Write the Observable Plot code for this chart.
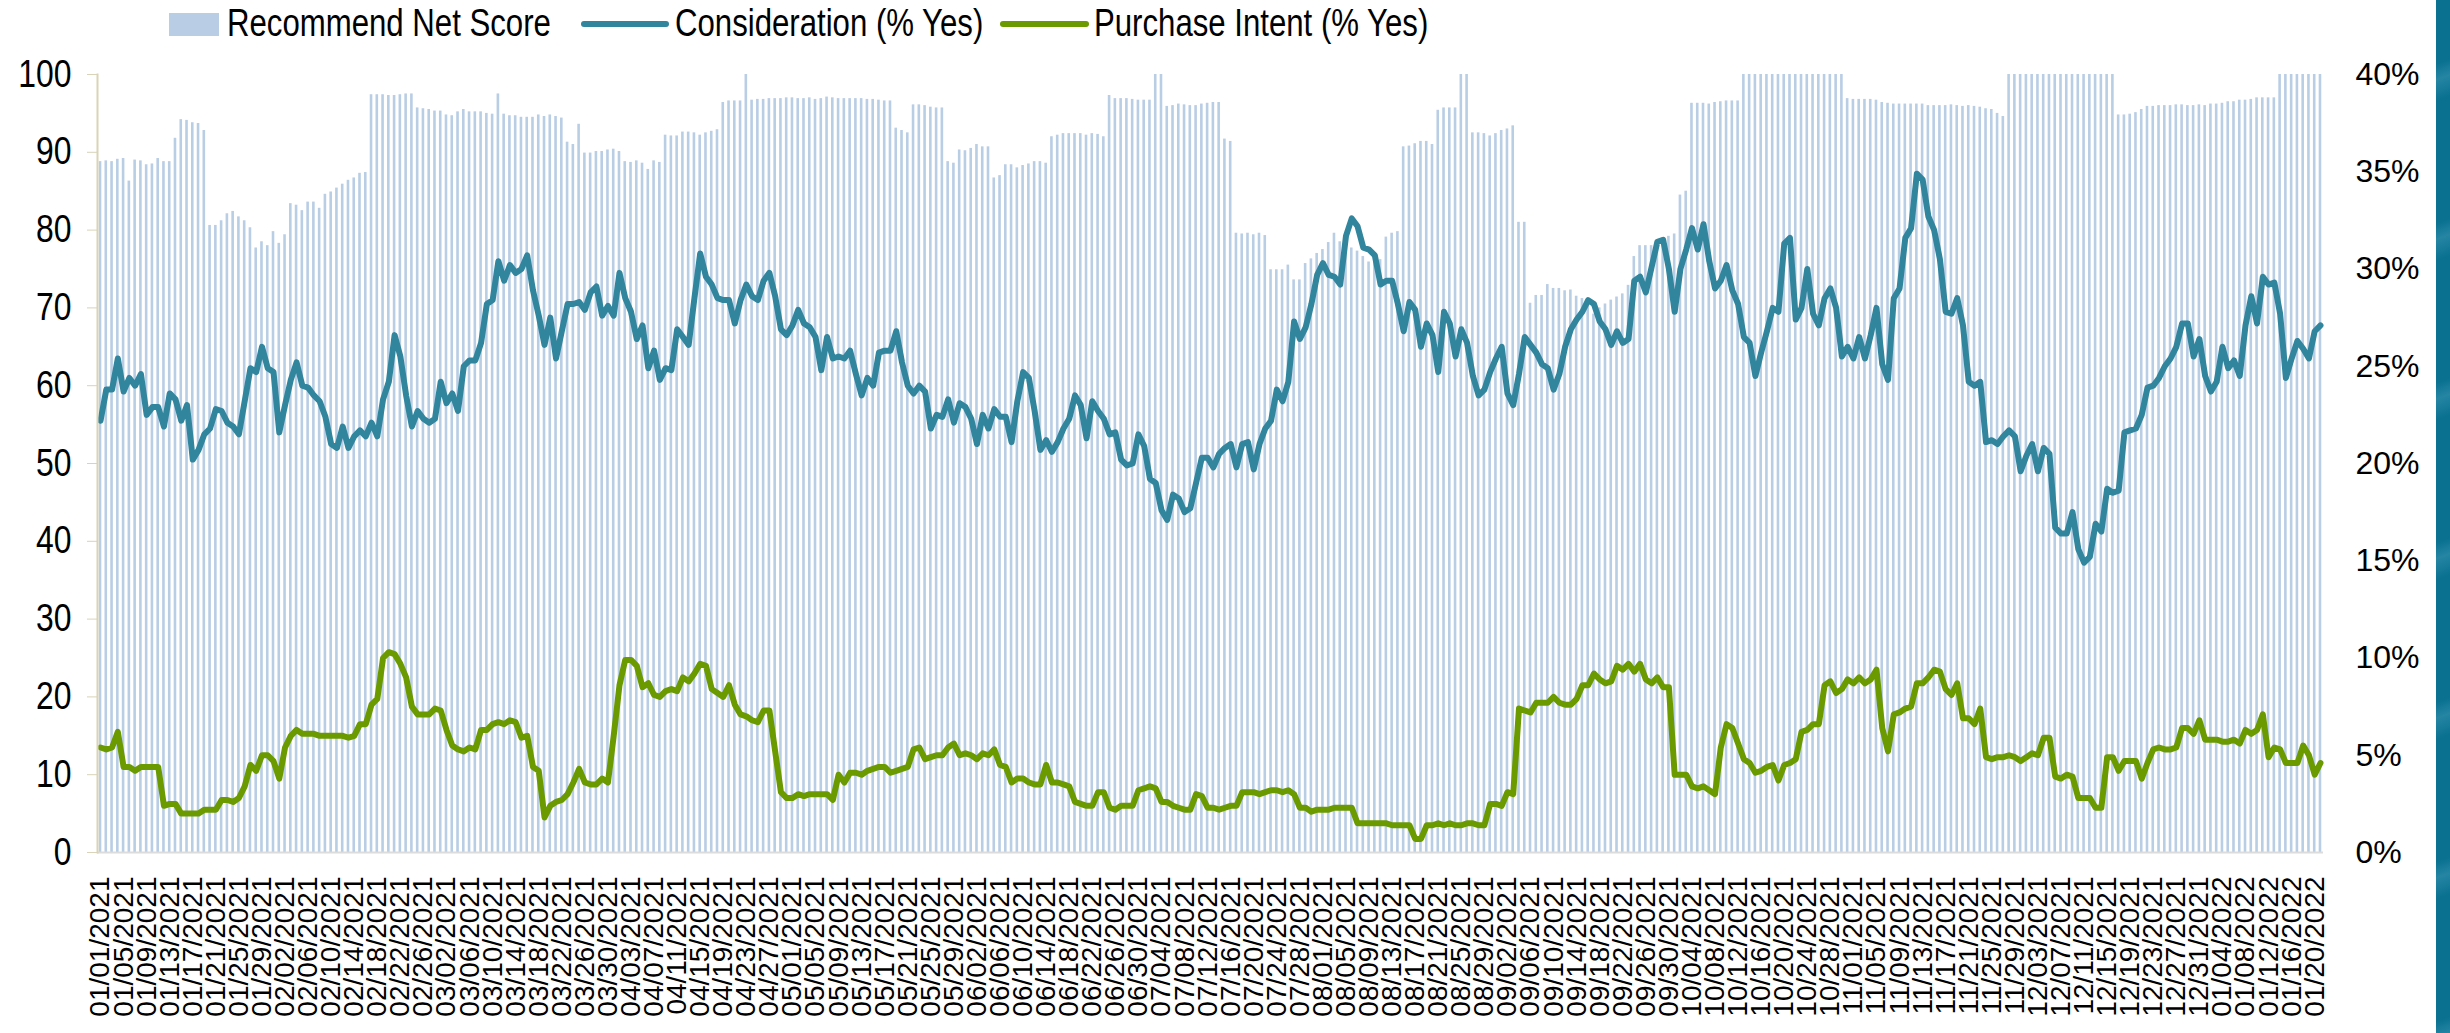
<!DOCTYPE html>
<html><head><meta charset="utf-8">
<script src="https://cdn.jsdelivr.net/npm/d3@7"></script>
<script src="https://cdn.jsdelivr.net/npm/@observablehq/plot@0.6"></script>
<style>
html,body{margin:0;padding:0;background:#fff;width:2450px;height:1033px;overflow:hidden;}
#wrap{position:relative;width:2450px;height:1033px;}
#legend{position:relative;height:46px;width:2450px;font-family:"Liberation Sans",Arial,sans-serif;font-size:38px;color:#000;}
.sw{position:absolute;}
.lt{position:absolute;top:0;height:46px;line-height:46px;white-space:nowrap;transform:scaleX(0.82);transform-origin:left center;}
#strip{position:absolute;left:2436px;top:0;width:14px;height:1033px;
background:repeating-linear-gradient(160deg,#0a7191 0px,#0a7191 60px,#2585a3 75px,#0a7191 95px,#0a7191 150px);}
svg{display:block;}
</style></head>
<body><div id="wrap"><div id="legend"></div><div id="chart"></div><div id="strip"></div></div>
<script>
// ---------- data ----------
const seriesNames = ["Recommend Net Score", "Consideration (% Yes)", "Purchase Intent (% Yes)"];
const seriesColors = ["#b9cde5", "#31859c", "#6a9a00"];
const leftTicks = [0,10,20,30,40,50,60,70,80,90,100];
const rightTicks = [0,5,10,15,20,25,30,35,40];

// Recommend Net Score (left axis), daily 01/01/2021 - 01/21/2022
const recommend = [
88.8,88.9,88.8,89.1,89.2,86.3,89.0,88.9,88.4,88.5,89.2,88.8,88.8,91.8,94.2,94.1,93.8,93.7,92.8,
80.6,80.6,81.2,82.1,82.4,81.7,81.2,80.3,77.7,78.5,78.0,79.8,78.3,79.4,83.4,83.2,82.5,83.6,83.6,82.8,84.6,84.9,85.4,85.9,86.4,86.7,87.3,87.4,
97.4,97.4,97.4,97.3,97.3,97.4,97.5,97.5,
95.7,95.6,95.5,95.3,95.3,94.8,94.7,95.2,95.5,95.2,95.2,95.2,95.0,94.9,97.5,94.9,94.7,94.7,94.5,94.5,94.5,94.8,94.6,94.8,94.6,94.4,
91.3,91.0,93.6,
89.9,89.9,90.1,90.1,90.3,90.4,90.1,
88.8,88.7,88.9,88.6,87.8,88.9,88.7,
92.2,92.1,92.1,92.6,92.6,92.5,92.2,92.5,92.7,92.9,
96.4,96.6,96.6,96.6,
100,
96.7,96.8,96.8,96.9,96.9,96.9,97.0,97.0,96.9,96.9,97.0,96.8,96.9,97.1,97.0,96.9,96.9,96.9,96.9,96.9,96.8,96.8,96.7,96.6,96.6,
93.1,92.8,92.5,
96.1,96.1,96.0,95.8,95.7,95.7,
88.8,88.6,
90.3,90.2,90.5,91.0,90.7,90.7,
86.7,87.0,
88.4,88.4,88.0,88.3,88.5,88.8,88.8,88.6,
92.0,92.2,92.4,92.4,92.4,92.4,92.2,92.4,92.3,92.0,
97.3,96.9,96.9,96.9,96.8,96.7,96.7,96.7,
100,100,
95.9,96.0,96.2,96.1,96.0,96.0,96.2,96.3,96.4,96.4,
91.7,91.4,
79.6,79.5,79.6,79.4,79.6,79.3,
74.9,74.9,74.9,75.5,
73.6,73.6,
75.7,76.3,77.0,77.5,78.4,79.6,78.5,
78.0,77.7,77.3,76.6,75.9,75.9,76.2,
79.1,79.6,79.8,
90.7,90.8,91.1,91.4,91.4,91.0,
95.4,95.7,95.7,95.7,
100,100,
92.5,92.5,92.4,92.1,92.4,92.8,93.0,93.4,
81.0,81.0,
70.6,71.6,71.6,
73.0,72.5,72.5,72.2,72.3,
71.5,71.2,70.5,69.2,70.0,70.5,
71.0,71.4,71.8,72.9,
76.6,78.0,78.0,78.0,
78.6,79.0,79.2,79.5,
84.5,85.0,
96.3,96.3,96.3,96.2,96.4,96.5,96.6,96.6,96.6,
100,100,100,100,100,100,100,100,100,100,100,100,100,100,100,100,100,100,
96.9,96.8,96.8,96.8,96.8,96.7,96.4,96.3,96.2,96.2,96.2,96.2,96.2,96.2,96.0,96.0,96.0,96.0,96.1,96.0,95.9,96.0,95.9,95.8,95.6,95.5,95.0,94.6,
100,100,100,100,100,100,100,100,100,100,100,100,100,100,100,100,100,100,100,
94.8,94.8,94.9,95.1,
95.5,95.9,95.9,96.0,96.0,96.0,96.1,96.1,96.0,96.0,96.1,96.0,96.2,96.2,96.3,96.5,96.5,96.7,96.7,96.8,97.0,97.0,97.0,97.0,
100,100,100,100,100,100,100,100
];

// Consideration (% Yes), right axis
const consideration = [
22.2,23.8,23.8,25.4,23.7,24.4,24.0,24.6,22.5,22.9,
22.9,21.9,23.6,23.3,22.2,23.0,20.2,20.7,21.5,21.8,
22.8,22.7,22.1,21.9,21.5,23.2,24.9,24.7,26.0,24.9,
24.7,21.6,23.0,24.3,25.2,24.0,23.9,23.5,23.2,22.4,
21.0,20.8,21.9,20.8,21.4,21.7,21.4,22.1,21.4,23.3,
24.2,26.6,25.5,23.5,21.9,22.7,22.3,22.1,22.3,24.2,
23.1,23.6,22.7,25.0,25.3,25.3,26.2,28.2,28.4,30.4,
29.4,30.2,29.8,30.0,30.7,28.9,27.6,26.1,27.5,25.4,
26.8,28.2,28.2,28.3,27.9,28.8,29.1,27.6,28.1,27.6,
29.8,28.5,27.8,26.4,27.1,24.9,25.8,24.3,24.9,24.8,
26.9,26.5,26.1,28.5,30.8,29.6,29.2,28.5,28.4,28.4,
27.2,28.4,29.2,28.6,28.4,29.4,29.8,28.6,26.9,26.6,
27.1,27.9,27.2,27.0,26.5,24.8,26.5,25.4,25.5,25.4,
25.8,
24.6,23.5,24.4,24.0,25.7,25.8,25.8,26.8,25.2,24.0,
23.6,24.0,23.7,21.8,22.5,22.4,23.3,22.1,23.1,22.9,
22.3,21.0,22.5,21.8,22.8,22.4,22.4,21.1,23.2,24.7,
24.4,22.7,20.7,21.2,20.6,21.1,21.8,22.3,23.5,23.0,
21.3,23.2,22.7,22.3,21.5,21.6,20.2,19.9,20.0,21.5,
20.9,19.2,19.0,17.6,17.1,18.4,18.2,17.5,17.7,19.0,
20.3,20.3,19.8,20.5,20.8,21.0,19.8,21.0,21.1,19.7,
21.0,21.8,22.2,23.8,23.2,24.2,27.3,26.4,27.0,28.2,
29.7,30.3,29.7,29.6,29.2,31.7,32.6,32.2,31.1,31.0,
30.7,29.2,29.4,29.4,28.2,26.8,28.3,27.9,26.0,27.2,
26.6,24.7,27.8,27.2,25.5,26.9,26.2,24.5,23.5,23.8,
24.7,25.4,26.0,23.6,23.0,24.6,26.5,26.1,25.7,25.1,
24.9,23.8,24.6,26.0,26.9,27.4,27.8,
28.4,28.2,27.3,26.9,26.1,26.8,26.2,26.4,29.4,29.6,
28.8,30.1,31.4,31.5,30.0,27.8,30.0,31.0,32.1,31.0,
32.3,30.4,29.0,29.4,30.2,28.9,28.2,26.5,26.2,24.5,
25.7,26.8,28.0,27.8,31.3,31.6,27.4,28.0,30.0,27.7,
27.1,28.5,29.0,28.0,25.5,26.0,25.4,26.5,25.4,26.6,
28.0,25.1,24.3,28.5,29.0,31.6,32.1,34.9,34.6,32.7,
32.0,30.5,27.8,27.7,28.5,27.1,24.2,24.0,24.2,21.1,
21.2,21.0,21.4,21.7,21.4,19.6,20.4,21.0,19.6,20.8,
20.5,16.7,16.4,16.4,17.5,15.6,14.9,15.2,16.9,16.5,
18.7,18.5,18.6,21.6,21.7,21.8,22.5,23.9,24.0,24.4,
25.0,25.4,26.0,27.2,27.2,25.5,26.4,24.5,23.7,24.2,
26.0,24.9,25.3,24.5,27.1,28.6,27.2,29.6,29.2,29.3,
27.7,24.4,25.4,26.3,25.9,25.4,26.8,27.1
];

// Purchase Intent (% Yes), right axis
const purchase = [
5.4,5.3,5.4,6.2,4.4,4.4,4.2,4.4,4.4,4.4,
4.4,2.4,2.5,2.5,2.0,2.0,2.0,2.0,2.2,2.2,
2.2,2.7,2.7,2.6,2.8,3.4,4.5,4.2,5.0,5.0,
4.7,3.8,5.4,6.0,6.3,6.1,6.1,6.1,6.0,6.0,
6.0,6.0,6.0,5.9,6.0,6.6,6.6,7.6,7.9,10.0,
10.3,10.2,9.7,9.0,7.5,7.1,7.1,7.1,7.4,7.3,
6.3,5.5,5.3,5.2,5.4,5.3,6.3,6.3,6.6,6.7,
6.6,6.8,6.7,5.9,6.0,4.4,4.2,1.8,2.4,2.6,
2.7,3.0,3.6,4.3,3.6,3.5,3.5,3.8,3.6,6.0,
8.6,9.9,9.9,9.6,8.5,8.7,8.1,8.0,8.3,8.4,
8.3,9.0,8.8,9.2,9.7,9.6,8.4,8.2,8.0,8.6,
7.6,7.1,7.0,6.8,6.7,7.3,7.3,5.2,3.1,2.8,
2.8,3.0,2.9,3.0,3.0,3.0,3.0,2.7,4.0,3.6,
4.1,
4.1,4.0,4.2,4.3,4.4,4.4,4.1,4.2,4.3,4.4,
5.3,5.4,4.8,4.9,5.0,5.0,5.4,5.6,5.0,5.1,
5.0,4.8,5.1,5.0,5.3,4.5,4.4,3.6,3.8,3.8,
3.6,3.5,3.5,4.5,3.6,3.6,3.5,3.4,2.6,2.5,
2.4,2.4,3.1,3.1,2.3,2.2,2.4,2.4,2.4,3.2,
3.3,3.4,3.3,2.6,2.6,2.4,2.3,2.2,2.2,3.0,
2.9,2.3,2.3,2.2,2.3,2.4,2.4,3.1,3.1,3.1,
3.0,3.1,3.2,3.2,3.1,3.2,3.0,2.3,2.3,2.1,
2.2,2.2,2.2,2.3,2.3,2.3,2.3,1.5,1.5,1.5,
1.5,1.5,1.5,1.4,1.4,1.4,1.4,0.7,0.7,1.4,
1.4,1.5,1.4,1.5,1.4,1.4,1.5,1.5,1.4,1.4,
2.5,2.5,2.4,3.1,3.0,7.4,7.3,7.2,7.7,7.7,
7.7,8.0,7.7,7.6,7.6,7.9,8.6,
8.6,9.2,8.9,8.7,8.8,9.6,9.4,9.7,9.3,9.7,
8.9,8.7,9.0,8.5,8.5,4.0,4.0,4.0,3.4,3.3,
3.4,3.2,3.0,5.4,6.6,6.4,5.6,4.8,4.6,4.1,
4.2,4.4,4.5,3.7,4.5,4.6,4.8,6.2,6.3,6.6,
6.6,8.6,8.8,8.2,8.4,8.9,8.7,9.0,8.7,8.9,
9.4,6.4,5.2,7.1,7.2,7.4,7.5,8.7,8.7,9.0,
9.4,9.3,8.4,8.1,8.7,6.9,6.9,6.6,7.4,4.9,
4.8,4.9,4.9,5.0,4.9,4.7,4.9,5.1,5.0,5.9,
5.9,3.9,3.8,4.0,3.9,2.8,2.8,2.8,2.3,2.3,
4.9,4.9,4.2,4.7,4.7,4.7,3.8,4.6,5.3,5.4,
5.3,5.3,5.4,6.4,6.4,6.1,6.8,5.8,5.8,5.8,
5.7,5.7,5.8,5.6,6.3,6.1,6.3,7.1,4.9,5.4,
5.3,4.6,4.6,4.6,5.5,5.0,4.0,4.6
];

// categories: one per day
const fmt = d3.utcFormat("%m/%d/%Y");
const dates = d3.utcDay.range(new Date(Date.UTC(2021,0,1)), new Date(Date.UTC(2022,0,22))).map(fmt);
const tickLabels = dates.filter((d, i) => i % 4 === 0);

const rows = dates.map((d, i) => ({date: d, rns: recommend[i], cons: consideration[i], pi: purchase[i]}));
const ratio = 100 / 40; // right axis 0-40% mapped onto left 0-100

// ---------- legend ----------
const legend = document.getElementById("legend");
const legendLayout = [
  {swLeft: 169, w: 50, h: 23, textLeft: 227},
  {swLeft: 581, w: 88, h: 6, textLeft: 675},
  {swLeft: 1000, w: 89, h: 6, textLeft: 1094}
];
seriesNames.forEach((name, i) => {
  const L = legendLayout[i];
  const sw = document.createElement("div");
  sw.className = "sw";
  sw.style.left = L.swLeft + "px";
  sw.style.width = L.w + "px";
  sw.style.height = L.h + "px";
  sw.style.top = (24 - L.h / 2) + "px";
  sw.style.background = seriesColors[i];
  if (L.h < 10) sw.style.borderRadius = "3px";
  legend.appendChild(sw);
  const t = document.createElement("div");
  t.className = "lt";
  t.style.left = L.textLeft + "px";
  t.textContent = name;
  legend.appendChild(t);
});

// ---------- chart ----------
const chart = Plot.plot({
  width: 2450,
  height: 987,
  marginTop: 28,
  marginBottom: 181,
  marginLeft: 97,
  marginRight: 127,
  style: {background: "transparent", overflow: "visible"},
  x: {type: "band", domain: dates, paddingInner: 0.55, paddingOuter: 0.3, axis: null, label: null},
  y: {domain: [0, 100], axis: null, label: null},
  marks: [
    Plot.barY(rows, {x: "date", y: "rns", fill: seriesColors[0]}),
    Plot.ruleY([0], {stroke: "#dcdcdc", strokeWidth: 2}),
    Plot.line(rows, {x: "date", y: d => d.cons * ratio, stroke: seriesColors[1], strokeWidth: 6, strokeLinejoin: "round"}),
    Plot.line(rows, {x: "date", y: d => d.pi * ratio, stroke: seriesColors[2], strokeWidth: 6, strokeLinejoin: "round"}),
    Plot.frame({anchor: "left", stroke: "#d9d3b8", strokeWidth: 2}),
    Plot.axisY({anchor: "left", label: null, ticks: leftTicks, tickSize: 10, tickPadding: 16, stroke: "#d9d3b8",
      fill: "#000", fontSize: 38, fontFamily: "Liberation Sans, Arial, sans-serif"}),
    Plot.axisY({anchor: "right", label: null, ticks: rightTicks.map(v => v * ratio), tickFormat: v => Math.round(v / ratio) + "%",
      tickSize: 0, tickPadding: 32, fill: "#000", fontSize: 32, fontFamily: "Liberation Sans, Arial, sans-serif", textAnchor: "start"}),
    Plot.axisX({label: null, ticks: tickLabels, tickRotate: -90, tickSize: 0, tickPadding: 24, fill: "#000",
      fontSize: 28, fontFamily: "Liberation Sans, Arial, sans-serif"})
  ]
});
document.getElementById("chart").appendChild(chart);

// condense the left-axis numbers horizontally (narrow typeface in the original);
// only the x placement is moved into the transform, vertical offsets are kept.
const yLabelGroups = chart.querySelectorAll('g[aria-label="y-axis tick label"]');
if (yLabelGroups.length) {
  yLabelGroups[0].querySelectorAll("text").forEach(el => {
    const t = el.getAttribute("transform") || "";
    const x = el.getAttribute("x");
    let pre = "";
    if (x !== null && !isNaN(+x)) {
      pre = `translate(${+x},0)`;
      el.removeAttribute("x");
    }
    el.setAttribute("transform", `${t} ${pre} scale(0.84,1)`);
  });
}
</script></body></html>
